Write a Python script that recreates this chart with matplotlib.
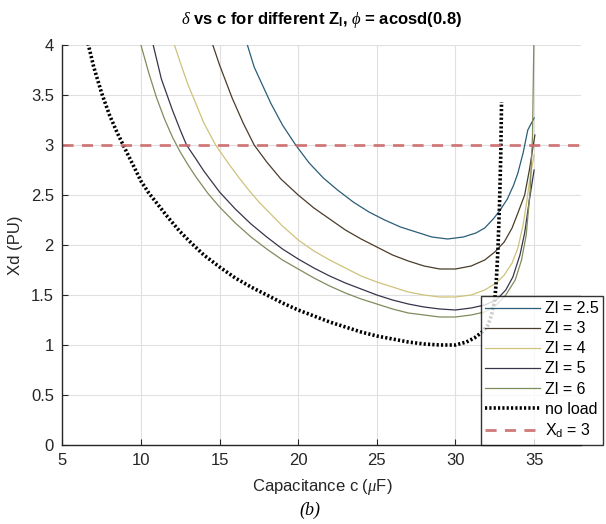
import numpy as np
import matplotlib
matplotlib.use("Agg")
import matplotlib.pyplot as plt
from matplotlib.ticker import FuncFormatter

plt.rcParams['font.family'] = ['Liberation Sans', 'DejaVu Sans']
plt.rcParams['mathtext.fontset'] = 'custom'
plt.rcParams['mathtext.rm'] = 'Liberation Sans'
plt.rcParams['mathtext.it'] = 'Liberation Serif:italic'

# ---- datos ----
c_noload = [6.5, 6.66, 7.0, 7.5, 8.0, 8.5, 8.87, 9.5, 10, 10.5, 11, 11.7, 12.45, 13.2, 14, 15,
            16, 17, 18, 19, 20, 21, 22, 23, 24, 25, 26, 27, 28, 29, 30, 30.7, 31.2, 31.7,
            32.07, 32.3, 32.5, 32.6, 32.7, 32.8, 32.88, 32.93]
xd_noload = [4.1, 4.0, 3.78, 3.52, 3.3, 3.12, 3.0, 2.8, 2.64, 2.52, 2.42, 2.28, 2.14, 2.02, 1.9,
             1.78, 1.67, 1.58, 1.5, 1.42, 1.35, 1.29, 1.23, 1.18, 1.13, 1.09, 1.06, 1.03, 1.01,
             1.0, 1.0, 1.03, 1.07, 1.13, 1.2, 1.3, 1.45, 1.65, 1.95, 2.4, 2.9, 3.43]

c_z25 = [16.6, 16.77, 17.2, 18.25, 19, 19.84, 20.7, 21.6, 22.5, 23.5, 24.5, 25.5, 26.5, 27.5,
         28.5, 29.5, 30.5, 31.3, 31.86, 32.4, 32.8, 33.3, 33.7, 33.97, 34.3, 34.6, 35.0]
xd_z25 = [4.08, 4.0, 3.78, 3.42, 3.2, 3.0, 2.82, 2.67, 2.55, 2.43, 2.33, 2.25, 2.18, 2.13,
          2.08, 2.06, 2.08, 2.12, 2.17, 2.26, 2.34, 2.46, 2.6, 2.72, 2.92, 3.15, 3.27]

c_z3 = [14.45, 14.57, 15.0, 15.8, 16.5, 17.2, 18, 18.9, 20, 21, 22, 23, 24, 25, 26, 27, 28,
        29, 30, 31, 31.86, 32.5, 33.1, 33.6, 33.97, 34.4, 34.7, 34.9, 35.05]
xd_z3 = [4.07, 4.0, 3.8, 3.47, 3.22, 3.0, 2.83, 2.66, 2.5, 2.37, 2.26, 2.15, 2.06, 1.98, 1.9,
         1.84, 1.79, 1.76, 1.76, 1.79, 1.85, 1.93, 2.03, 2.17, 2.32, 2.5, 2.75, 2.95, 3.1]

c_z4 = [12.0, 12.13, 12.6, 13.0, 13.4, 14, 14.75, 15.5, 16.2, 16.8, 17.5, 18, 19, 20, 21, 22,
        23, 24, 25, 26, 27, 28, 29, 30, 31, 31.86, 32.6, 33.1, 33.6, 33.97, 34.3, 34.5,
        34.75, 35.0]
xd_z4 = [4.08, 4.0, 3.78, 3.6, 3.45, 3.22, 3.0, 2.83, 2.68, 2.56, 2.43, 2.35, 2.19, 2.05,
         1.94, 1.85, 1.77, 1.69, 1.63, 1.58, 1.53, 1.5, 1.48, 1.48, 1.5, 1.55, 1.62, 1.7,
         1.82, 1.97, 2.2, 2.4, 2.68, 2.9]

c_z5 = [10.65, 10.78, 11.3, 12, 12.5, 12.9, 13.5, 14, 15, 16, 17, 18, 19, 20, 21, 22, 23,
        24, 25, 26, 27, 28, 29, 30, 31, 31.86, 32.6, 33.2, 33.65, 34.1, 34.4, 34.7, 34.9, 35.0]
xd_z5 = [4.08, 4.0, 3.66, 3.35, 3.15, 3.0, 2.86, 2.74, 2.53, 2.36, 2.21, 2.08, 1.96, 1.86,
         1.77, 1.69, 1.62, 1.56, 1.5, 1.45, 1.41, 1.38, 1.36, 1.35, 1.37, 1.4, 1.45, 1.55,
         1.68, 1.9, 2.12, 2.45, 2.65, 2.75]

c_z6 = [9.88, 10.0, 10.5, 11.0, 11.5, 12.0, 12.5, 13.0, 13.5, 14.24, 15, 16, 17, 18, 19, 20,
        21, 22, 23, 24, 25, 26, 27, 28, 29, 30, 31, 31.86, 32.6, 33.2, 33.8, 34.2, 34.5,
        34.75, 34.9, 35.0]
xd_z6 = [4.07, 4.0, 3.72, 3.47, 3.26, 3.08, 2.93, 2.8, 2.68, 2.52, 2.38, 2.22, 2.08, 1.96,
         1.85, 1.76, 1.67, 1.59, 1.52, 1.46, 1.41, 1.36, 1.32, 1.3, 1.28, 1.28, 1.3, 1.33,
         1.4, 1.5, 1.65, 1.85, 2.1, 2.55, 3.1, 4.2]

etiquetas = ['Zl = 2.5', 'Zl = 3', 'Zl = 4', 'Zl = 5', 'Zl = 6']
colores = ['#2b5d78', '#4a3c2a', '#cfc27a', '#38344a', '#7f8c5c']
xd_limite = 3

fig = plt.figure(figsize=(6.06, 5.24), dpi=100)
ax = fig.add_axes([0.1028, 0.1508, 0.8564, 0.7633])

curvas = [(c_z25, xd_z25), (c_z3, xd_z3), (c_z4, xd_z4), (c_z5, xd_z5), (c_z6, xd_z6)]
for (cc, xx), lab, col in zip(curvas, etiquetas, colores):
    ax.plot(cc, xx, color=col, lw=0.9, label=lab)
ax.plot(c_noload, xd_noload, color='black', lw=2.6, ls=(0, (0.6, 0.6)), label='no load')
ax.axhline(xd_limite, color='#cc6a6a', lw=2.0, ls=(0, (4, 3)), alpha=0.9, label='X$_\\mathregular{d}$ = 3')

ax.set_xlim(5, 38)
ax.set_ylim(0, 4)
ax.set_xticks(np.arange(5, 36, 5))
ax.set_yticks(np.arange(0, 4.01, 0.5))
ax.yaxis.set_major_formatter(FuncFormatter(lambda v, p: ('%g' % v)))
ax.grid(True, color='#e0e0e0', lw=0.8)
ax.set_axisbelow(True)
for s in ['top', 'right']:
    ax.spines[s].set_visible(False)
for s in ['left', 'bottom']:
    ax.spines[s].set_color('#262626')
    ax.spines[s].set_linewidth(1.0)
ax.tick_params(direction='in', length=4, labelsize=12, colors='#262626', pad=6)

ax.set_xlabel('Capacitance c ($\\mu$F)', fontsize=12, color='#262626', labelpad=6)
ax.set_ylabel('Xd (PU)', fontsize=12, color='#262626', labelpad=6)
ax.set_title('$\\delta$ vs c for different Z$_\\mathregular{l}$, $\\phi$ = acosd(0.8)',
             fontsize=12, fontweight='bold', pad=15)

leg = ax.legend(loc='lower right', bbox_to_anchor=(1.042, 0.0), borderaxespad=0,
                fontsize=11.5, frameon=True, fancybox=False, handlelength=3.4,
                handletextpad=0.3, labelspacing=0.32, borderpad=0.3)
leg.get_frame().set_edgecolor('black')
leg.get_frame().set_linewidth(1.0)

fig.text(0.512, 0.027, '(b)', fontsize=13, style='italic', family='Liberation Serif',
         ha='center', va='center')

fig.savefig('out.png', dpi=100)
